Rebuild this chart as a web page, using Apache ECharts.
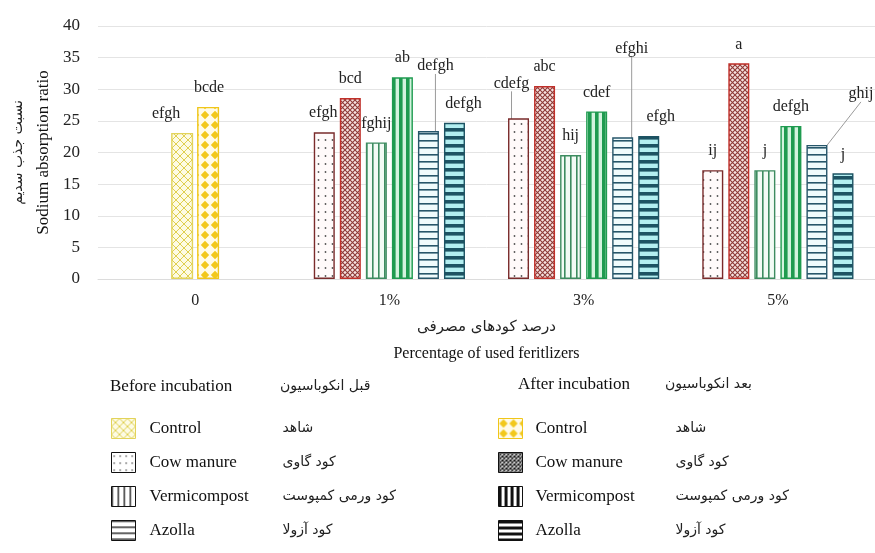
<!DOCTYPE html>
<html><head><meta charset="utf-8">
<script src="https://cdn.jsdelivr.net/npm/echarts@6/dist/echarts.min.js"></script>
<style>html,body{margin:0;padding:0;background:#fff}#c{width:875px;height:553px}</style>
</head><body><div id="c"></div>
<script>
// ---------- data ----------
const categories = ['0', '1%', '3%', '5%'];
const controlBefore = [23.1, null, null, null];
const controlAfter  = [27.2, null, null, null];
const cowBefore     = [null, 23.2, 25.4, 17.2];
const cowAfter      = [null, 28.6, 30.5, 34.1];
const vermiBefore   = [null, 21.6, 19.6, 17.2];
const vermiAfter    = [null, 31.9, 26.5, 24.2];
const azollaBefore  = [null, 23.4, 22.4, 21.2];
const azollaAfter   = [null, 24.7, 22.6, 16.7];

const controlBeforeLetters = ['efgh', '', '', ''];
const controlAfterLetters  = ['bcde', '', '', ''];
const cowBeforeLetters     = ['', 'efgh', 'cdefg', 'ij'];
const cowAfterLetters      = ['', 'bcd', 'abc', 'a'];
const vermiBeforeLetters   = ['', 'fghij', 'hij', 'j'];
const vermiAfterLetters    = ['', 'ab', 'cdef', 'defgh'];
const azollaBeforeLetters  = ['', 'defgh', 'efghi', 'ghij'];
const azollaAfterLetters   = ['', 'defgh', 'efgh', 'j'];

const legendEnglish = ['Control', 'Cow manure', 'Vermicompost', 'Azolla'];
const legendPersian = ['شاهد', 'کود گاوی', 'کود ورمی کمپوست', 'کود آزولا'];
const headingBefore = ['Before incubation', 'قبل انکوباسیون'];
const headingAfter  = ['After incubation', 'بعد انکوباسیون'];
const xNameFa = 'درصد کودهای مصرفی';
const xNameEn = 'Percentage of used feritlizers';
const yNameFa = 'نسبت جذب سدیم';
const yNameEn = 'Sodium absorption ratio';
const yMin = 0, yMax = 40, yStep = 5;

// ---------- styling ----------
const SERIF = "'Liberation Serif', 'DejaVu Serif', serif";
const FA = "'DejaVu Sans', sans-serif";

function pattern(w, h, draw) {
  const c = document.createElement('canvas');
  c.width = w; c.height = h;
  const g = c.getContext('2d');
  draw(g, w, h);
  return { image: c, repeat: 'repeat' };
}
function bg(g, w, h, col) { g.fillStyle = col; g.fillRect(0, 0, w, h); }
const P = {
  controlBefore: pattern(8, 8, (g, w, h) => { bg(g, w, h, '#fdfbe4'); g.strokeStyle = '#e0cf50'; g.lineWidth = 1;
    g.beginPath(); g.moveTo(0, 0); g.lineTo(8, 8); g.moveTo(8, 0); g.lineTo(0, 8); g.stroke(); }),
  controlAfter: pattern(10, 10, (g, w, h) => { bg(g, w, h, '#fffbea'); g.fillStyle = '#f2c81c';
    g.beginPath(); g.moveTo(5, 0.8); g.lineTo(9.2, 5); g.lineTo(5, 9.2); g.lineTo(0.8, 5); g.closePath(); g.fill(); }),
  cowBefore: pattern(7, 8, (g, w, h) => { bg(g, w, h, '#fffafa'); g.fillStyle = '#555';
    g.beginPath(); g.arc(3.5, 4, 0.9, 0, Math.PI * 2); g.fill(); }),
  cowAfter: pattern(5, 5, (g, w, h) => { bg(g, w, h, '#f7e2e0'); g.strokeStyle = '#8e3b38'; g.lineWidth = 1.1;
    g.beginPath(); g.moveTo(0, 0); g.lineTo(5, 5); g.moveTo(5, 0); g.lineTo(0, 5); g.stroke(); }),
  vermiBefore: pattern(6, 2, (g, w, h) => { bg(g, w, h, '#f2fbf5'); g.fillStyle = '#3d8c60'; g.fillRect(0, 0, 1.6, 2); }),
  vermiAfter: pattern(7, 2, (g, w, h) => { bg(g, w, h, '#d3f3de'); g.fillStyle = '#1f9b50'; g.fillRect(0, 0, 3.6, 2); }),
  azollaBefore: pattern(2, 7, (g, w, h) => { bg(g, w, h, '#effbfc'); g.fillStyle = '#27566a'; g.fillRect(0, 0, 2, 1.6); }),
  azollaAfter: pattern(2, 8, (g, w, h) => { bg(g, w, h, '#b3eff1'); g.fillStyle = '#1d5363'; g.fillRect(0, 0, 2, 3.6); })
};
const L = { // black & white legend swatches
  cowBefore: pattern(6, 7, (g, w, h) => { bg(g, w, h, '#fff'); g.fillStyle = '#222'; g.fillRect(2, 3, 1.2, 1.2); }),
  cowAfter: pattern(4, 4, (g, w, h) => { bg(g, w, h, '#fff'); g.strokeStyle = '#111'; g.lineWidth = 1.2;
    g.beginPath(); g.moveTo(0, 0); g.lineTo(4, 4); g.moveTo(4, 0); g.lineTo(0, 4); g.stroke(); }),
  vermiBefore: pattern(6, 2, (g, w, h) => { bg(g, w, h, '#fff'); g.fillStyle = '#222'; g.fillRect(0, 0, 1.4, 2); }),
  vermiAfter: pattern(6, 2, (g, w, h) => { bg(g, w, h, '#fff'); g.fillStyle = '#111'; g.fillRect(0, 0, 3, 2); }),
  azollaBefore: pattern(2, 6, (g, w, h) => { bg(g, w, h, '#fff'); g.fillStyle = '#222'; g.fillRect(0, 0, 2, 1.4); }),
  azollaAfter: pattern(2, 6, (g, w, h) => { bg(g, w, h, '#fff'); g.fillStyle = '#111'; g.fillRect(0, 0, 2, 3); })
};

// label position tweaks [dx, dy, leaderLine]
const labelShift = {
  controlBefore: [[-16, 0], null, null, null],
  controlAfter: [[1, 0], null, null, null],
  cowBefore: [null, [-1, 0], [-7, -16, true], [0, 0]],
  cowAfter: [null, [0, 0], [0, 0], [0, 0]],
  vermiBefore: [null, [0, 0], [0, 0], [0, 0]],
  vermiAfter: [null, [0, 0], [0, 0], [0, 0]],
  azollaBefore: [null, [7, -46, true], [9, -70, true], [44, -32, true]],
  azollaAfter: [null, [9, 0], [12, 0], [0, 0]]
};

function makeSeries(key, name, values, letters, fill, border, axisIdx) {
  const shifts = labelShift[key];
  return {
    name: name, type: 'bar', xAxisIndex: axisIdx, yAxisIndex: 0,
    barWidth: axisIdx === 1 ? 22 : 21, barGap: axisIdx === 1 ? '18%' : '24%',
    data: values.map((v, i) => ({ value: v, labelLine: { show: !!(shifts[i] && shifts[i][2]) } })),
    itemStyle: { color: fill, borderColor: border, borderWidth: 1.4 },
    label: {
      show: true, position: 'top', distance: 11, color: '#222',
      fontFamily: SERIF, fontSize: 16,
      formatter: p => letters[p.dataIndex] || ''
    },
    labelLine: { show: false, lineStyle: { color: '#9a9a9a', width: 1 } },
    labelLayout: p => { const s = shifts[p.dataIndex]; return s ? { dx: s[0], dy: s[1] } : {}; },
    emphasis: { disabled: true }
  };
}

const series = [
  makeSeries('controlBefore', 'Control|b', controlBefore, controlBeforeLetters, P.controlBefore, '#e2d35a', 1),
  makeSeries('controlAfter', 'Control|a', controlAfter, controlAfterLetters, P.controlAfter, '#f0c61a', 1),
  makeSeries('cowBefore', 'Cow manure|b', cowBefore, cowBeforeLetters, P.cowBefore, '#7a2b2b', 0),
  makeSeries('cowAfter', 'Cow manure|a', cowAfter, cowAfterLetters, P.cowAfter, '#c0302a', 0),
  makeSeries('vermiBefore', 'Vermicompost|b', vermiBefore, vermiBeforeLetters, P.vermiBefore, '#3d8c60', 0),
  makeSeries('vermiAfter', 'Vermicompost|a', vermiAfter, vermiAfterLetters, P.vermiAfter, '#1f9b50', 0),
  makeSeries('azollaBefore', 'Azolla|b', azollaBefore, azollaBeforeLetters, P.azollaBefore, '#27566a', 0),
  makeSeries('azollaAfter', 'Azolla|a', azollaAfter, azollaAfterLetters, P.azollaAfter, '#1d5363', 0)
];

function legendFormatter(name) {
  const en = name.split('|')[0];
  const fa = legendPersian[legendEnglish.indexOf(en)];
  return '{en|' + en + '}{fa|' + fa + '}';
}
function legendRich(enWidth, pad) {
  return {
    en: { fontFamily: SERIF, fontSize: 17, color: '#111', width: enWidth, padding: [0, 0, 0, pad], lineHeight: 20 },
    fa: { fontFamily: FA, fontSize: 14, color: '#222', lineHeight: 20 }
  };
}
const legendBase = {
  orient: 'vertical', icon: 'rect', itemWidth: 24, itemHeight: 20, itemGap: 13,
  padding: 0, height: 130, selectedMode: false, formatter: legendFormatter
};

const chart = echarts.init(document.getElementById('c'), null, { renderer: 'canvas' });
chart.setOption({
  animation: false,
  backgroundColor: '#fff',
  grid: { left: 98, right: 0, top: 26, bottom: 274 },
  xAxis: [{
    type: 'category', data: categories,
    axisLine: { show: true, lineStyle: { color: '#dcdcdc', width: 1 } },
    axisTick: { show: false },
    axisLabel: { margin: 14, fontFamily: SERIF, fontSize: 16, color: '#222' },
    splitLine: { show: false },
    name: '{fa|' + xNameFa + '}\n{en|' + xNameEn + '}',
    nameLocation: 'middle', nameGap: 36,
    nameTextStyle: { rich: {
      fa: { fontFamily: FA, fontSize: 15, color: '#222', lineHeight: 25, align: 'center' },
      en: { fontFamily: SERIF, fontSize: 16, color: '#111', lineHeight: 28, align: 'center' }
    } }
  }, {
    type: 'category', data: categories, show: false, gridIndex: 0
  }],
  yAxis: {
    type: 'value', min: yMin, max: yMax, interval: yStep,
    axisLine: { show: false }, axisTick: { show: false },
    axisLabel: { margin: 18, fontFamily: SERIF, fontSize: 17, color: '#222' },
    splitLine: { lineStyle: { color: '#e4e4e4', width: 1 } },
    name: '{fa|' + yNameFa + '}\n{en|' + yNameEn + '}',
    nameLocation: 'middle', nameRotate: 90, nameGap: 38,
    nameTextStyle: { rich: {
      fa: { fontFamily: FA, fontSize: 14, color: '#222', lineHeight: 27, align: 'center' },
      en: { fontFamily: SERIF, fontSize: 17, color: '#111', lineHeight: 24, align: 'center' }
    } }
  },
  legend: [
    Object.assign({}, legendBase, {
      left: 111, top: 418,
      textStyle: { rich: legendRich(133, 9) },
      data: [
        { name: 'Control|b', itemStyle: { color: P.controlBefore, borderColor: '#e2d35a', borderWidth: 1 } },
        { name: 'Cow manure|b', itemStyle: { color: L.cowBefore, borderColor: '#111', borderWidth: 1 } },
        { name: 'Vermicompost|b', itemStyle: { color: L.vermiBefore, borderColor: '#111', borderWidth: 1 } },
        { name: 'Azolla|b', itemStyle: { color: L.azollaBefore, borderColor: '#111', borderWidth: 1 } }
      ]
    }),
    Object.assign({}, legendBase, {
      left: 498, top: 418,
      textStyle: { rich: legendRich(140, 8) },
      data: [
        { name: 'Control|a', itemStyle: { color: P.controlAfter, borderColor: '#f0c61a', borderWidth: 1 } },
        { name: 'Cow manure|a', itemStyle: { color: L.cowAfter, borderColor: '#111', borderWidth: 1 } },
        { name: 'Vermicompost|a', itemStyle: { color: L.vermiAfter, borderColor: '#111', borderWidth: 1 } },
        { name: 'Azolla|a', itemStyle: { color: L.azollaAfter, borderColor: '#111', borderWidth: 1 } }
      ]
    })
  ],
  graphic: [
    { type: 'text', left: 110, top: 378, style: { text: headingBefore[0], font: '17px ' + SERIF, fill: '#111' } },
    { type: 'text', left: 280, top: 379, style: { text: headingBefore[1], font: '14px ' + FA, fill: '#222' } },
    { type: 'text', left: 518, top: 376, style: { text: headingAfter[0], font: '17px ' + SERIF, fill: '#111' } },
    { type: 'text', left: 665, top: 377, style: { text: headingAfter[1], font: '14px ' + FA, fill: '#222' } }
  ],
  series: series
});
</script>
</body></html>
